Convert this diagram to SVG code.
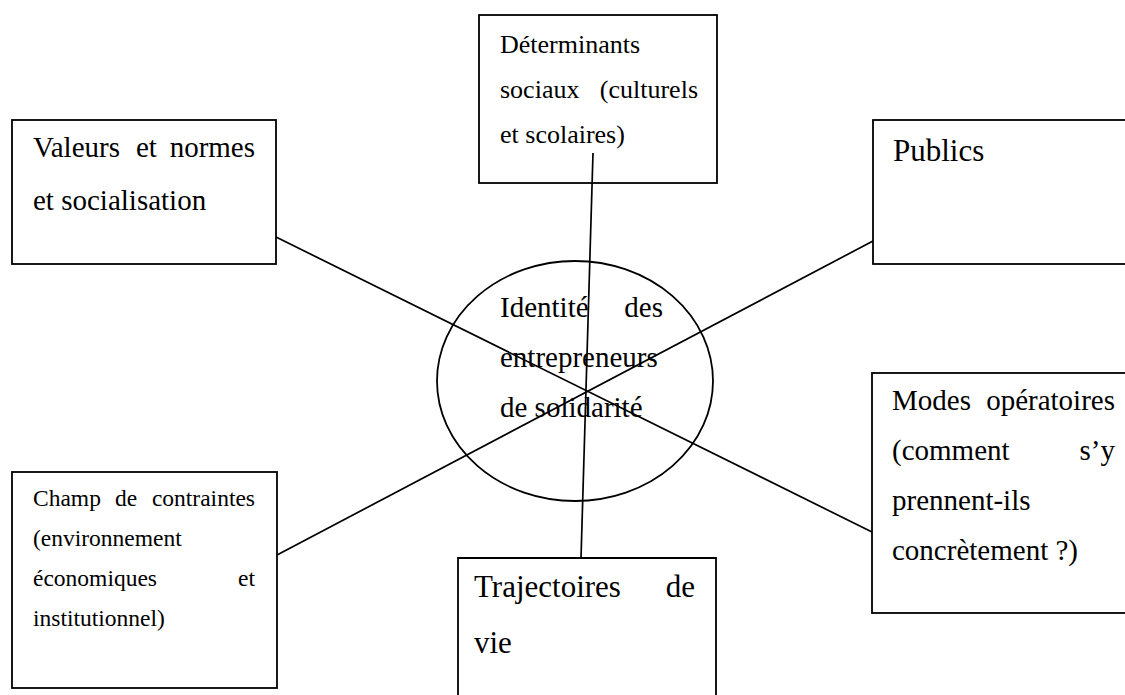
<svg xmlns="http://www.w3.org/2000/svg" width="1125" height="695" viewBox="0 0 1125 695">
<style>
.box{fill:none;stroke:#000;stroke-width:1.8}
.con{stroke:#000;stroke-width:1.7;fill:none}
text{font-family:"Liberation Serif","Times New Roman",serif;fill:#000}
.s23{font-size:23.5px}
.s26{font-size:26px}
.s29{font-size:29px}
.s31{font-size:31px}
.e{text-anchor:end}
</style>
<rect width="1125" height="695" fill="#fff"/>
<g id="centre">
<ellipse class="box" cx="575" cy="381" rx="138" ry="120"/>
</g>
<g id="connectors">
<line class="con" x1="276" y1="237" x2="872" y2="532"/>
<line class="con" x1="277" y1="555" x2="873" y2="241"/>
<line class="con" x1="593" y1="153" x2="581" y2="558"/>
</g>
<g id="centre-label" class="s29">
<text x="500" y="317">Identité</text><text class="e" x="663" y="317">des</text>
<text x="500" y="367">entrepreneurs</text>
<text x="500" y="417">de solidarité</text>
</g>
<g id="determinants">
<rect class="box" x="479" y="15" width="238" height="168"/>
<g class="s26">
<text x="500" y="53">Déterminants</text>
<text x="500" y="98">sociaux</text><text class="e" x="698" y="98">(culturels</text>
<text x="500" y="143">et scolaires)</text>
</g>
</g>
<g id="valeurs">
<rect class="box" x="12" y="120" width="264" height="144"/>
<g class="s29">
<text x="33" y="157">Valeurs</text><text x="136" y="157">et</text><text class="e" x="255" y="157">normes</text>
<text x="33" y="210">et socialisation</text>
</g>
</g>
<g id="publics">
<rect class="box" x="873" y="120" width="260" height="144"/>
<text class="s31" x="893" y="161">Publics</text>
</g>
<g id="champ">
<rect class="box" x="12" y="472" width="265" height="216"/>
<g class="s23">
<text x="33" y="506">Champ</text><text x="115" y="506">de</text><text class="e" x="255" y="506">contraintes</text>
<text x="33" y="546">(environnement</text>
<text x="33" y="586">économiques</text><text class="e" x="255" y="586">et</text>
<text x="33" y="626">institutionnel)</text>
</g>
</g>
<g id="modes">
<rect class="box" x="872" y="373" width="260" height="240"/>
<g class="s29">
<text x="892" y="410">Modes</text><text class="e" x="1115" y="410">opératoires</text>
<text x="892" y="460">(comment</text><text class="e" x="1115" y="460">s’y</text>
<text x="892" y="510">prennent-ils</text>
<text x="892" y="560">concrètement ?)</text>
</g>
</g>
<g id="trajectoires">
<path class="box" d="M458,700 V558 H716 V700"/>
<g class="s31">
<text x="474" y="597">Trajectoires</text><text class="e" x="695" y="597">de</text>
<text x="474" y="653">vie</text>
</g>
</g>
</svg>
